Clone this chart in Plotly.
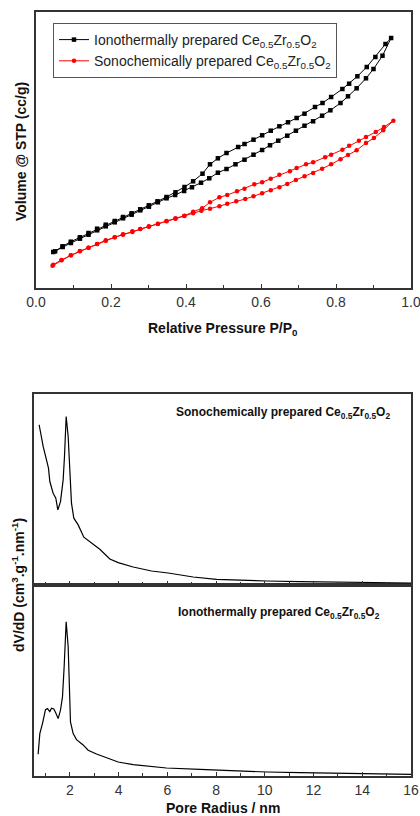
import plotly.graph_objects as go

# ---------------- Data: N2 isotherms (arbitrary volume units) ----------------
iono_ads_p = [0.046, 0.071, 0.093, 0.117, 0.140, 0.163, 0.186, 0.210, 0.232, 0.255,
              0.278, 0.301, 0.325, 0.348, 0.371, 0.395, 0.416, 0.440, 0.462, 0.485,
              0.508, 0.532, 0.556, 0.580, 0.603, 0.624, 0.646, 0.670, 0.693, 0.716,
              0.739, 0.763, 0.785, 0.812, 0.832, 0.855, 0.880, 0.900, 0.924, 0.947]
iono_ads_v = [36.0, 41.0, 45.0, 49.3, 53.3, 57.7, 61.7, 65.7, 69.7, 73.3,
              77.7, 81.3, 85.7, 89.7, 93.0, 97.0, 100.7, 105.3, 109.7, 115.3,
              119.0, 123.7, 128.3, 133.3, 138.0, 142.7, 147.3, 152.3, 157.3, 162.3,
              166.7, 172.3, 177.7, 185.0, 191.7, 199.7, 209.7, 219.0, 232.3, 250.0]
iono_des_p = [0.932, 0.905, 0.882, 0.857, 0.835, 0.817, 0.787, 0.764, 0.744, 0.716,
              0.695, 0.672, 0.649, 0.626, 0.603, 0.580, 0.556, 0.539, 0.508, 0.485,
              0.464, 0.444, 0.419, 0.396, 0.372, 0.348, 0.324, 0.301, 0.278, 0.255,
              0.232, 0.210, 0.186, 0.163, 0.140, 0.117, 0.093, 0.071, 0.051]
iono_des_v = [244.0, 231.0, 221.0, 211.7, 204.3, 199.0, 191.0, 185.0, 181.0, 174.3,
              170.0, 165.7, 161.7, 157.3, 152.7, 148.3, 144.0, 141.0, 135.0, 129.7,
              123.7, 114.3, 106.7, 101.0, 95.7, 91.0, 86.7, 82.7, 78.7, 74.7,
              71.0, 67.0, 63.3, 59.3, 55.0, 50.7, 46.3, 41.7, 36.7]

sono_ads_p = [0.044, 0.068, 0.093, 0.117, 0.140, 0.163, 0.186, 0.210, 0.232, 0.257,
              0.278, 0.301, 0.325, 0.348, 0.372, 0.395, 0.419, 0.441, 0.464, 0.489,
              0.510, 0.534, 0.558, 0.580, 0.603, 0.626, 0.649, 0.670, 0.693, 0.716,
              0.739, 0.763, 0.787, 0.812, 0.832, 0.855, 0.880, 0.901, 0.926, 0.953]
sono_ads_v = [22.3, 27.7, 32.7, 36.7, 40.3, 44.0, 47.3, 50.7, 53.7, 56.0,
              59.0, 61.3, 64.0, 66.7, 69.3, 72.0, 74.7, 77.3, 79.3, 81.7,
              84.3, 86.7, 89.0, 91.7, 94.7, 97.7, 100.7, 104.0, 108.0, 111.7,
              115.0, 119.3, 123.7, 128.7, 133.0, 137.7, 145.0, 150.0, 157.7, 167.3]
sono_des_p = [0.928, 0.906, 0.880, 0.861, 0.835, 0.817, 0.787, 0.771, 0.739, 0.720,
              0.695, 0.677, 0.649, 0.626, 0.603, 0.582, 0.556, 0.536, 0.510, 0.489,
              0.464, 0.443, 0.419, 0.396, 0.372, 0.348, 0.325, 0.301, 0.278, 0.257,
              0.232, 0.210, 0.186, 0.163, 0.140, 0.117, 0.093, 0.068, 0.046]
sono_des_v = [161.0, 156.0, 151.0, 147.3, 142.3, 138.3, 133.3, 130.7, 125.7, 123.7,
              120.0, 116.7, 113.3, 109.3, 105.7, 103.7, 99.3, 96.7, 93.0, 90.7,
              85.7, 79.7, 76.3, 72.3, 69.7, 67.0, 64.3, 61.7, 59.0, 56.7,
              53.3, 50.7, 47.7, 44.0, 40.3, 37.0, 32.7, 28.0, 23.3]

# ---------------- Data: pore size distributions (arbitrary units) ----------------
sono_r = [0.741, 0.906, 1.042, 1.124, 1.179, 1.316, 1.425, 1.508, 1.617, 1.726,
          1.781, 1.850, 1.932, 2.000, 2.068, 2.164, 2.342, 2.575, 2.821, 3.231,
          3.642, 3.984, 4.599, 5.352, 6.036, 7.061, 8.019, 8.977, 10.07, 11.44,
          12.81, 14.18, 16.0]
sono_dv = [160.0, 138.3, 125.0, 116.7, 103.3, 91.7, 86.7, 75.0, 83.3, 105.0,
           128.3, 168.3, 148.3, 115.0, 81.7, 66.7, 60.0, 47.7, 43.3, 35.7,
           26.0, 22.3, 18.0, 14.0, 12.0, 8.0, 5.7, 4.7, 4.0, 3.3,
           2.7, 2.3, 2.0]

iono_r = [0.700, 0.769, 0.878, 1.001, 1.083, 1.179, 1.248, 1.343, 1.425, 1.521,
          1.617, 1.699, 1.767, 1.850, 1.932, 1.986, 2.027, 2.137, 2.274, 2.547,
          2.752, 3.094, 3.505, 3.984, 4.599, 5.283, 5.967, 7.335, 8.703, 10.07,
          11.44, 12.81, 14.18, 16.0]
iono_dv = [21.7, 42.3, 52.3, 66.3, 67.3, 64.3, 67.7, 67.0, 63.0, 57.3,
           65.7, 79.0, 109.0, 154.0, 129.0, 85.7, 54.0, 42.3, 36.3, 31.0,
           25.7, 22.0, 18.3, 14.0, 11.3, 10.0, 8.0, 6.7, 5.0, 4.0,
           3.3, 2.7, 2.3, 1.7]

p_ticks = [0.0, 0.2, 0.4, 0.6, 0.8, 1.0]
p_ticklabels = ["0.0", "0.2", "0.4", "0.6", "0.8", "1.0"]
r_ticks = [2, 4, 6, 8, 10, 12, 14, 16]

iono_name = "Ionothermally prepared Ce<sub>0.5</sub>Zr<sub>0.5</sub>O<sub>2</sub>"
sono_name = "Sonochemically prepared Ce<sub>0.5</sub>Zr<sub>0.5</sub>O<sub>2</sub>"

W, H = 420, 816
FONT = "Liberation Sans, Arial, sans-serif"
AX = "#333333"

fig = go.Figure()

fig.add_trace(go.Scatter(
    x=iono_ads_p + iono_des_p, y=iono_ads_v + iono_des_v,
    mode="lines+markers", name=iono_name,
    line=dict(color="black", width=1),
    marker=dict(symbol="square", size=4.5, color="black"),
    xaxis="x", yaxis="y"))
fig.add_trace(go.Scatter(
    x=sono_ads_p + sono_des_p, y=sono_ads_v + sono_des_v,
    mode="lines+markers", name=sono_name,
    line=dict(color="red", width=1),
    marker=dict(symbol="circle", size=4.5, color="red"),
    xaxis="x", yaxis="y"))

fig.add_trace(go.Scatter(
    x=sono_r, y=sono_dv, mode="lines", showlegend=False,
    line=dict(color="black", width=1.2), xaxis="x3", yaxis="y3"))
fig.add_trace(go.Scatter(
    x=iono_r, y=iono_dv, mode="lines", showlegend=False,
    line=dict(color="black", width=1.2), xaxis="x2", yaxis="y2"))

def px_x(p):
    return p / W

def px_y(p):
    return 1 - p / H

common_axis = dict(showline=True, linecolor=AX, linewidth=1.5, mirror=True,
                   showgrid=False, zeroline=False, automargin=False)

fig.update_layout(
    template="none",
    width=W, height=H,
    margin=dict(l=0, r=0, t=0, b=0, pad=0),
    paper_bgcolor="white", plot_bgcolor="white",
    font=dict(family=FONT, color="#222222"),
    showlegend=True,
    legend=dict(x=px_x(53), y=px_y(23), xanchor="left", yanchor="top",
                bordercolor="#555555", borderwidth=1, bgcolor="white",
                font=dict(size=14, family=FONT, color="#222222"),
                tracegroupgap=0, itemwidth=30),
    xaxis=dict(domain=[px_x(36), px_x(411)], range=[0, 1.0], anchor="y",
               tickvals=p_ticks, ticktext=p_ticklabels, ticks="inside", ticklen=4,
               tickwidth=1.2, tickcolor=AX, ticklabeloverflow="allow",
               minor=dict(dtick=0.1, ticks="inside", ticklen=3, tickcolor=AX),
               tickfont=dict(size=14, color="#333333"), **common_axis),
    yaxis=dict(domain=[px_y(288), px_y(12)], range=[0, 276], anchor="x",
               showticklabels=False, ticks="", **common_axis),
    xaxis2=dict(domain=[px_x(34), px_x(411)], range=[0.53, 16], anchor="y2",
                tickvals=r_ticks, ticks="inside", ticklen=4, tickwidth=1.2, tickcolor=AX,
                ticklabeloverflow="allow",
                minor=dict(dtick=1, tick0=0, ticks="inside", ticklen=3, tickcolor=AX),
                tickfont=dict(size=14, color="#333333"), **common_axis),
    yaxis2=dict(domain=[px_y(776), px_y(585)], range=[0, 190.7], anchor="x2",
                showticklabels=False, ticks="", **common_axis),
    xaxis3=dict(domain=[px_x(34), px_x(411)], range=[0.53, 16], anchor="y3",
                tickvals=r_ticks, showticklabels=False, ticks="inside", ticklen=4,
                tickwidth=1.2, tickcolor=AX,
                minor=dict(dtick=1, tick0=0, ticks="inside", ticklen=3, tickcolor=AX),
                **common_axis),
    yaxis3=dict(domain=[px_y(585), px_y(394)], range=[0, 190.7], anchor="x3",
                showticklabels=False, ticks="", **common_axis),
)

ann = [
    dict(text="<b>Relative Pressure P/P<sub>0</sub></b>", x=px_x(223), y=px_y(329),
         font=dict(size=14)),
    dict(text="<b>Volume @ STP (cc/g)</b>", x=px_x(21), y=px_y(152), textangle=-90,
         font=dict(size=14)),
    dict(text="<b>Pore Radius / nm</b>", x=px_x(223), y=px_y(808),
         font=dict(size=14)),
    dict(text="<b>dV/dD (cm<sup>3</sup>.g<sup>-1</sup>.nm<sup>-1</sup>)</b>",
         x=px_x(18), y=px_y(585), textangle=-90, font=dict(size=14)),
    dict(text="<b>" + sono_name + "</b>", x=px_x(283), y=px_y(413),
         font=dict(size=12)),
    dict(text="<b>" + iono_name + "</b>", x=px_x(279), y=px_y(613),
         font=dict(size=12)),
]
for a in ann:
    fig.add_annotation(xref="paper", yref="paper", showarrow=False,
                       xanchor="center", yanchor="middle",
                       font_family=FONT, font_color="#111111",
                       **{k: v for k, v in a.items()})

fig.write_html(
    "out.html",
    config={"displayModeBar": False},
    post_script="document.body.style.margin='0';document.body.style.overflow='hidden';",
)
